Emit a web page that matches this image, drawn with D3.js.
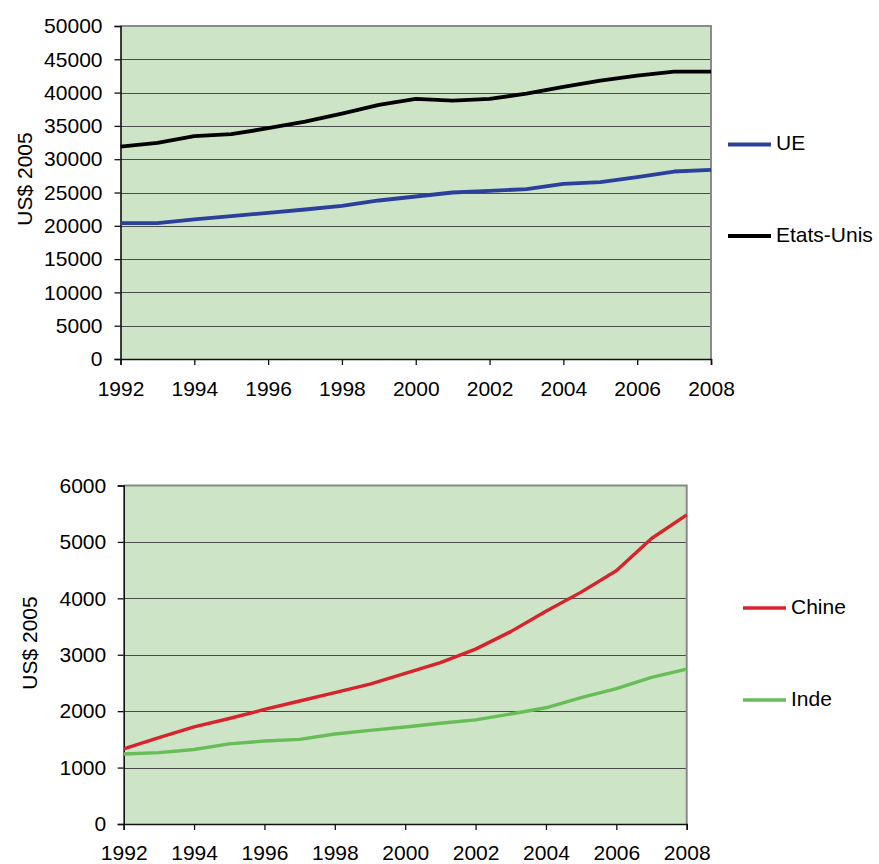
<!DOCTYPE html>
<html>
<head>
<meta charset="utf-8">
<script src="https://cdnjs.cloudflare.com/ajax/libs/d3/7.8.5/d3.min.js"></script>
<style>
  body { margin: 0; background: #fff; }
  svg text { font-family: "Liberation Sans", Arial, sans-serif; font-size: 21px; fill: #000; }
</style>
</head>
<body>
<svg id="chart" width="879" height="864"></svg>
<script>
/*
 * Data
 */
var years = [1992, 1993, 1994, 1995, 1996, 1997, 1998, 1999, 2000,
             2001, 2002, 2003, 2004, 2005, 2006, 2007, 2008];
var xTickYears = [1992, 1994, 1996, 1998, 2000, 2002, 2004, 2006, 2008];

var ueValues = [20400, 20400, 20950, 21450, 21950, 22450, 23000, 23800, 24400,
                25000, 25250, 25500, 26300, 26550, 27300, 28150, 28400];
var usValues = [31900, 32450, 33450, 33750, 34650, 35650, 36850, 38150, 39050,
                38800, 39050, 39850, 40850, 41800, 42550, 43150, 43150];
var topTicks = [0, 5000, 10000, 15000, 20000, 25000, 30000, 35000, 40000, 45000, 50000];

var chineValues = [1330, 1530, 1720, 1870, 2030, 2180, 2330, 2480, 2670,
                   2860, 3100, 3410, 3770, 4110, 4490, 5060, 5480];
var indeValues = [1240, 1265, 1320, 1420, 1470, 1500, 1595, 1660, 1720,
                  1785, 1845, 1950, 2060, 2240, 2400, 2600, 2745];
var bottomTicks = [0, 1000, 2000, 3000, 4000, 5000, 6000];

var svg = d3.select('#chart');

/*
 * Draw one panel: green plot area, grid, axes, lines and legend.
 */
function drawPanel(opt) {
    var x = d3.scaleLinear().domain([1992, 2008]).range([opt.left, opt.right]);
    var y = d3.scaleLinear().domain([0, opt.yMax]).range([opt.bottom, opt.top]);
    var g = svg.append('g');

    g.append('rect')
        .attr('x', opt.left).attr('y', opt.top)
        .attr('width', opt.right - opt.left)
        .attr('height', opt.bottom - opt.top)
        .attr('fill', '#cde5c6');

    // horizontal grid
    g.selectAll('.grid')
        .data(opt.ticks.filter(function(d) { return d > 0 && d < opt.yMax; }))
        .enter().append('line')
        .attr('x1', opt.left).attr('x2', opt.right)
        .attr('y1', function(d) { return Math.round(y(d)) + 0.5; })
        .attr('y2', function(d) { return Math.round(y(d)) + 0.5; })
        .attr('stroke', '#4a4a4a').attr('stroke-width', 1.2);

    // gray frame on top and right
    g.append('path')
        .attr('d', 'M' + opt.left + ',' + opt.top + 'H' + opt.right + 'V' + opt.bottom)
        .attr('fill', 'none').attr('stroke', '#8a8a8a').attr('stroke-width', 2);

    var yAxis = g.append('g')
        .attr('transform', 'translate(' + opt.left + ',0)')
        .call(d3.axisLeft(y).tickValues(opt.ticks).tickFormat(d3.format('d'))
            .tickSize(6).tickPadding(opt.yPad));
    var xAxis = g.append('g')
        .attr('transform', 'translate(0,' + opt.bottom + ')')
        .call(d3.axisBottom(x).tickValues(xTickYears).tickFormat(d3.format('d'))
            .tickSize(6).tickPadding(opt.xPad));
    [yAxis, xAxis].forEach(function(a) {
        a.select('.domain').attr('stroke', '#111').attr('stroke-width', 1.6);
        a.selectAll('.tick line').attr('stroke', '#111').attr('stroke-width', 1.3);
        a.selectAll('text').attr('font-size', 21)
            .attr('font-family', '"Liberation Sans", Arial, sans-serif').attr('fill', '#000');
    });

    var line = d3.line()
        .x(function(d, i) { return x(years[i]); })
        .y(function(d) { return y(d); });

    opt.series.forEach(function(s) {
        g.append('path')
            .attr('d', line(s.values))
            .attr('fill', 'none')
            .attr('stroke', s.color)
            .attr('stroke-width', s.width)
            .attr('stroke-linejoin', 'round');

        // legend entry
        g.append('line')
            .attr('x1', opt.legendX).attr('x2', opt.legendX + 43)
            .attr('y1', s.legendY).attr('y2', s.legendY)
            .attr('stroke', s.color).attr('stroke-width', s.width);
        g.append('text')
            .attr('x', opt.legendX + 48)
            .attr('y', s.legendY + 5.5)
            .text(s.name);
    });

    g.append('text')
        .attr('transform', 'translate(' + opt.titleX + ',' + opt.titleY + ') rotate(-90)')
        .attr('text-anchor', 'middle')
        .text('US$ 2005');
}

drawPanel({
    left: 120.5, right: 711, top: 26, bottom: 359, yMax: 50000,
    ticks: topTicks, yPad: 12, xPad: 16.5,
    legendX: 728, titleX: 32, titleY: 179,
    series: [
        {name: 'UE', values: ueValues, color: '#2b409c', width: 3.8, legendY: 144.5},
        {name: 'Etats-Unis', values: usValues, color: '#000000', width: 3.8, legendY: 236}
    ]
});

drawPanel({
    left: 123.7, right: 686.7, top: 485.5, bottom: 824, yMax: 6000,
    ticks: bottomTicks, yPad: 11.5, xPad: 15.5,
    legendX: 743, titleX: 36.5, titleY: 643,
    series: [
        {name: 'Chine', values: chineValues, color: '#d8232c', width: 3.4, legendY: 608},
        {name: 'Inde', values: indeValues, color: '#67bd56', width: 3.4, legendY: 700}
    ]
});
</script>
</body>
</html>
